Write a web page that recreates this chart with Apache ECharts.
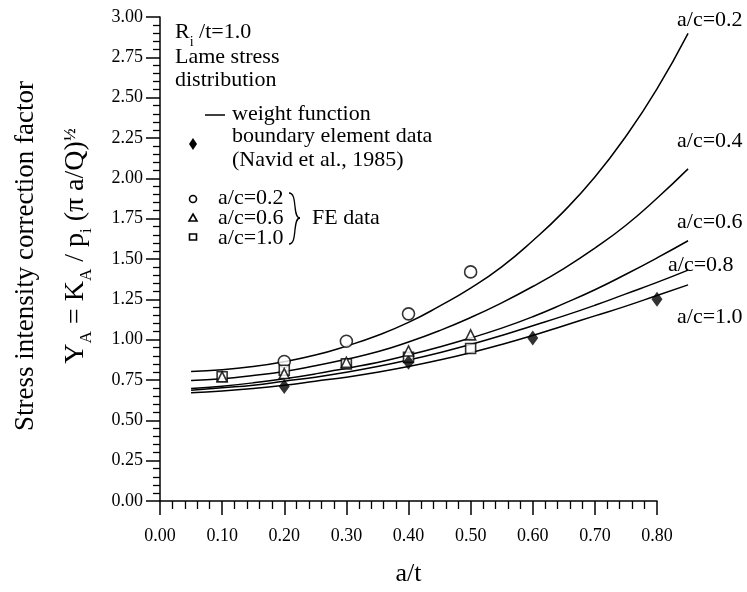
<!DOCTYPE html>
<html>
<head>
<meta charset="utf-8">
<script src="https://cdn.jsdelivr.net/npm/echarts/dist/echarts.min.js"></script>
<style>
  html, body { margin: 0; padding: 0; background: #fff; }
  #chart { width: 747px; height: 592px; }
</style>
</head>
<body>
<div id="chart"></div>
<script>
// weight function curves, Y_A against a/t
const xs = [0.05, 0.10, 0.15, 0.20, 0.25, 0.30, 0.35, 0.40, 0.45, 0.50, 0.55, 0.60, 0.65, 0.70, 0.75, 0.80, 0.85]
const wf02 = [0.83, 0.84, 0.86, 0.89, 0.93, 0.985, 1.05, 1.13, 1.23, 1.34, 1.47, 1.63, 1.81, 2.02, 2.27, 2.56, 2.90]
const wf04 = [0.775, 0.785, 0.805, 0.83, 0.865, 0.905, 0.95, 1.01, 1.08, 1.16, 1.25, 1.35, 1.46, 1.585, 1.725, 1.89, 2.07]
const wf06 = [0.725, 0.74, 0.76, 0.785, 0.815, 0.85, 0.885, 0.93, 0.98, 1.035, 1.095, 1.165, 1.245, 1.33, 1.425, 1.525, 1.63]
const wf08 = [0.715, 0.73, 0.745, 0.77, 0.795, 0.825, 0.86, 0.90, 0.945, 0.995, 1.05, 1.11, 1.17, 1.235, 1.305, 1.375, 1.45]
const wf10 = [0.70, 0.71, 0.725, 0.745, 0.77, 0.795, 0.825, 0.86, 0.90, 0.945, 0.995, 1.05, 1.11, 1.17, 1.23, 1.295, 1.36]
const curveNames = ['a/c=0.2', 'a/c=0.4', 'a/c=0.6', 'a/c=0.8', 'a/c=1.0']

// boundary element data (Navid et al., 1985)
const beX = [0.20, 0.40, 0.60, 0.80]
const beY = [0.71, 0.86, 1.01, 1.25]

// FE data
const fe02X = [0.20, 0.30, 0.40, 0.50]
const fe02Y = [0.865, 0.99, 1.16, 1.42]
const fe06X = [0.10, 0.20, 0.30, 0.40, 0.50]
const fe06Y = [0.77, 0.79, 0.86, 0.93, 1.03]
const fe10X = [0.10, 0.20, 0.30, 0.40, 0.50]
const fe10Y = [0.77, 0.81, 0.85, 0.89, 0.945]

const FONT = '"Liberation Serif", "Times New Roman", serif'
const zip = (a, b) => a.map((v, i) => [v, b[i]])

// plot box; the curves run past a/t=0.80 so they sit on a second, wider grid
const LEFT = 160, TOP = 17, W = 497, H = 490
const X_MAX = 0.8, CURVE_X_MAX = 0.85

const chart = echarts.init(document.getElementById('chart'))

const curveSeries = [wf02, wf04, wf06, wf08, wf10].map((ys, i) => ({
  name: curveNames[i],
  type: 'line',
  xAxisIndex: 1,
  yAxisIndex: 1,
  data: zip(xs, ys),
  smooth: true,
  showSymbol: false,
  silent: true,
  lineStyle: { color: '#000', width: 1.5 }
}))

const openMark = { color: '#fff', borderColor: '#000', borderWidth: 1.6 }

// labels drawn next to the curve ends
const curveLabels = [
  { x: 677, y: 20, text: 'a/c=0.2' },
  { x: 677, y: 141, text: 'a/c=0.4' },
  { x: 677, y: 222, text: 'a/c=0.6' },
  { x: 668, y: 265, text: 'a/c=0.8' },
  { x: 677, y: 317, text: 'a/c=1.0' }
].map(l => ({
  type: 'text', x: l.x, y: l.y,
  style: { text: l.text, font: '22px ' + FONT, fill: '#000', verticalAlign: 'middle' }
}))

const txt = (x, y, text, size) => ({
  type: 'text', x: x, y: y,
  style: { text: text, font: (size || 22) + 'px ' + FONT, fill: '#000', verticalAlign: 'middle' }
})

const legend = [
  {
    type: 'text', x: 175, y: 32,
    style: {
      text: '{a|R}{s|i}{a| /t=1.0}', verticalAlign: 'middle', fill: '#000',
      rich: {
        a: { fontSize: 22, fontFamily: FONT, lineHeight: 22, verticalAlign: 'top' },
        s: { fontSize: 14, fontFamily: FONT, lineHeight: 14, padding: [14, 0, 0, 0], verticalAlign: 'top' }
      }
    }
  },
  txt(175, 57, 'Lame stress'),
  txt(175, 80, 'distribution'),
  { type: 'line', shape: { x1: 205, y1: 115, x2: 225, y2: 115 }, style: { stroke: '#000', lineWidth: 1.5 } },
  txt(232, 114, 'weight function'),
  { type: 'polygon', shape: { points: [[193, 138], [197, 144], [193, 150], [189, 144]] }, style: { fill: '#000' } },
  txt(232, 136, 'boundary element data'),
  txt(232, 160, '(Navid et al., 1985)'),
  { type: 'circle', shape: { cx: 193, cy: 199, r: 3.5 }, style: { fill: '#fff', stroke: '#000', lineWidth: 1.6 } },
  txt(218, 198, 'a/c=0.2'),
  { type: 'polygon', shape: { points: [[193, 214], [197, 221], [189, 221]] }, style: { fill: '#fff', stroke: '#000', lineWidth: 1.6 } },
  txt(218, 218, 'a/c=0.6'),
  { type: 'rect', shape: { x: 189.5, y: 234, width: 7, height: 6 }, style: { fill: '#fff', stroke: '#000', lineWidth: 1.6 } },
  txt(218, 238, 'a/c=1.0'),
  // brace grouping the FE entries
  {
    type: 'bezierCurve',
    shape: { x1: 289, y1: 193, cpx1: 298, cpy1: 193, cpx2: 292, cpy2: 218, x2: 300, y2: 218 },
    style: { stroke: '#000', fill: null, lineWidth: 1.3 }
  },
  {
    type: 'bezierCurve',
    shape: { x1: 300, y1: 218, cpx1: 292, cpy1: 218, cpx2: 298, cpy2: 244, x2: 289, y2: 244 },
    style: { stroke: '#000', fill: null, lineWidth: 1.3 }
  },
  txt(312, 218, 'FE data')
]

const yTitles = [
  {
    type: 'text', x: 26, y: 256, rotation: Math.PI / 2,
    style: { text: 'Stress intensity correction factor', font: '27px ' + FONT, fill: '#000', align: 'center', verticalAlign: 'middle' }
  },
  {
    type: 'text', x: 76, y: 246, rotation: Math.PI / 2,
    style: {
      text: '{a|Y}{s|A}{a| = K}{s|A}{a| / p}{s|i}{a| (π a/Q)}{p|½}',
      align: 'center', verticalAlign: 'middle', fill: '#000',
      rich: {
        a: { fontSize: 28, fontFamily: FONT, lineHeight: 28, verticalAlign: 'top' },
        s: { fontSize: 17, fontFamily: FONT, lineHeight: 17, padding: [16, 0, 0, 0], verticalAlign: 'top' },
        p: { fontSize: 17, fontFamily: FONT, fontWeight: 'bold', lineHeight: 17, verticalAlign: 'top' }
      }
    }
  }
]

const option = {
  animation: false,
  backgroundColor: '#fff',
  grid: [
    { left: LEFT, top: TOP, width: W, height: H },
    { left: LEFT, top: TOP, width: W * CURVE_X_MAX / X_MAX, height: H }
  ],
  xAxis: [
    {
      type: 'value', min: 0, max: X_MAX, interval: 0.1, gridIndex: 0,
      name: 'a/t', nameLocation: 'middle', nameGap: 60,
      nameTextStyle: { fontFamily: FONT, fontSize: 26, color: '#000' },
      axisLine: { lineStyle: { color: '#000', width: 1.5 } },
      axisTick: { length: 14, lineStyle: { color: '#000', width: 1.5 } },
      minorTick: { show: true, splitNumber: 5, length: 8, lineStyle: { color: '#000', width: 1.3 } },
      splitLine: { show: false },
      axisLabel: { margin: 26, fontFamily: FONT, fontSize: 18, color: '#000', formatter: v => v.toFixed(2) }
    },
    { type: 'value', min: 0, max: CURVE_X_MAX, gridIndex: 1, show: false }
  ],
  yAxis: [
    {
      type: 'value', min: 0, max: 3, interval: 0.25, gridIndex: 0,
      axisLine: { show: true, lineStyle: { color: '#000', width: 1.5 } },
      axisTick: { show: true, length: 14, lineStyle: { color: '#000', width: 1.5 } },
      minorTick: { show: true, splitNumber: 5, length: 7, lineStyle: { color: '#000', width: 1.3 } },
      splitLine: { show: false },
      axisLabel: { margin: 17, fontFamily: FONT, fontSize: 18, color: '#000', formatter: v => v.toFixed(2) }
    },
    { type: 'value', min: 0, max: 3, gridIndex: 1, show: false }
  ],
  graphic: curveLabels.concat(legend, yTitles),
  series: curveSeries.concat([
    {
      name: 'boundary element data', type: 'scatter', symbol: 'diamond', symbolSize: [11, 15],
      data: zip(beX, beY), itemStyle: { color: '#000' }, z: 4
    },
    {
      name: 'FE a/c=0.2', type: 'scatter', symbol: 'circle', symbolSize: 12,
      data: zip(fe02X, fe02Y), itemStyle: openMark, z: 3
    },
    {
      name: 'FE a/c=0.6', type: 'scatter', symbol: 'triangle', symbolSize: 10,
      data: zip(fe06X, fe06Y), itemStyle: openMark, z: 5
    },
    {
      name: 'FE a/c=1.0', type: 'scatter', symbol: 'rect', symbolSize: 10,
      data: zip(fe10X, fe10Y), itemStyle: openMark, z: 3
    }
  ])
}

chart.setOption(option)
</script>
</body>
</html>
